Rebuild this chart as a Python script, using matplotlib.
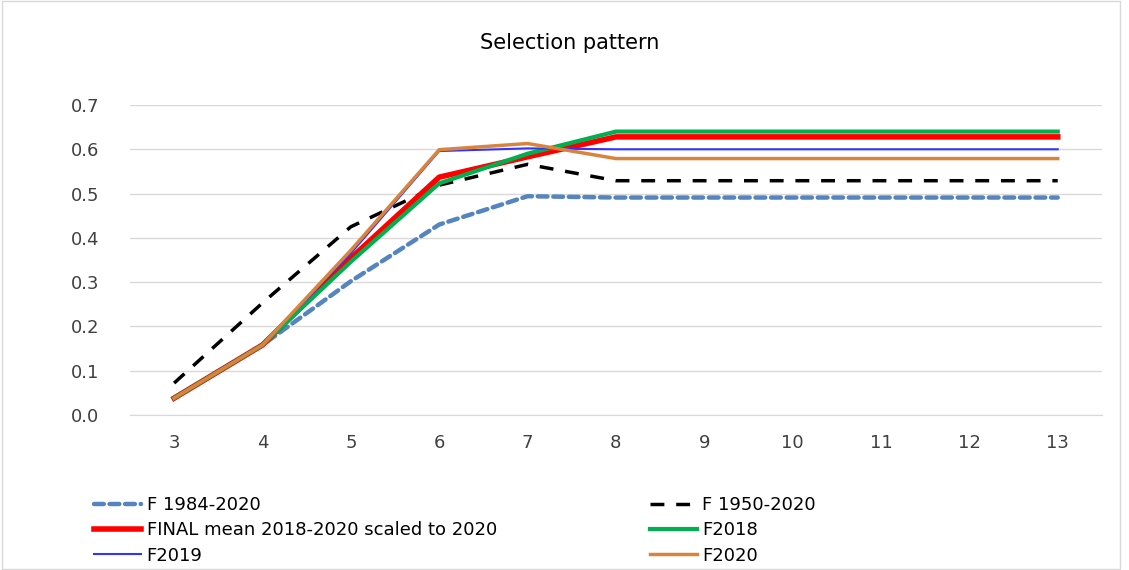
import numpy as np
import matplotlib.pyplot as plt
from matplotlib.patches import Rectangle

ages = [3, 4, 5, 6, 7, 8, 9, 10, 11, 12, 13]

f_1984_2020 = [0.038, 0.158, 0.302, 0.430, 0.494, 0.491, 0.491, 0.491, 0.491, 0.491, 0.491]
f_1950_2020 = [0.072, 0.253, 0.425, 0.519, 0.566, 0.529, 0.529, 0.529, 0.529, 0.529, 0.529]
final_mean = [0.038, 0.158, 0.354, 0.537, 0.583, 0.628, 0.628, 0.628, 0.628, 0.628, 0.628]
f2018 = [0.038, 0.158, 0.346, 0.523, 0.590, 0.640, 0.640, 0.640, 0.640, 0.640, 0.640]
f2019 = [0.038, 0.158, 0.365, 0.596, 0.602, 0.600, 0.600, 0.600, 0.600, 0.600, 0.600]
f2020 = [0.038, 0.158, 0.372, 0.599, 0.613, 0.579, 0.579, 0.579, 0.579, 0.579, 0.579]

plt.rcParams['font.family'] = ['DejaVu Sans']

fig = plt.figure(figsize=(11.29, 5.70), dpi=100)
ax = fig.add_axes([0.1151, 0.272, 0.8609, 0.5438])

l1, = ax.plot(ages, f_1984_2020, color='#5585C0', lw=3.2, dashes=(2.2, 1.3),
              dash_capstyle='round', label='F 1984-2020')
l2, = ax.plot(ages, f_1950_2020, color='black', lw=2.5, dashes=(4, 3.4),
              label='F 1950-2020')
l3, = ax.plot(ages, final_mean, color='#FF0000', lw=4, label='FINAL mean 2018-2020 scaled to 2020')
l4, = ax.plot(ages, f2018, color='#00B050', lw=3, label='F2018')
l5, = ax.plot(ages, f2019, color='#3333FF', lw=1.5, label='F2019')
l6, = ax.plot(ages, f2020, color='#D9843D', lw=2.5, label='F2020')

ax.set_xlim(2.5, 13.5)
ax.set_ylim(0, 0.7)
ax.set_xticks(ages)
ax.set_yticks(np.arange(0, 0.71, 0.1))
ax.set_yticklabels(['%.1f' % v for v in np.arange(0, 0.71, 0.1)])
ax.grid(axis='y', color='#d9d9d9', lw=1)
ax.set_axisbelow(True)
for s in ['top', 'right', 'left']:
    ax.spines[s].set_visible(False)
ax.spines['bottom'].set_color('#d9d9d9')
ax.tick_params(length=0, labelsize=13, colors='#404040')
ax.tick_params(axis='x', pad=14)
ax.tick_params(axis='y', pad=22)

fig.text(0.505, 0.925, 'Selection pattern', ha='center', va='center', fontsize=15, color='black')

kw = dict(frameon=False, fontsize=13, handlelength=2.6, handletextpad=0.3,
          labelspacing=0.4, loc='upper left', labelcolor='#000000')
fig.legend(handles=[l1, l3, l5], bbox_to_anchor=(0.069, 0.158), **kw)
fig.legend(handles=[l2, l4, l6], bbox_to_anchor=(0.561, 0.158), **kw)

fig.patches.append(Rectangle((0.002, 0.002), 0.99, 0.996, transform=fig.transFigure,
                             fill=False, edgecolor='#d9d9d9', lw=1))

fig.savefig('out.png', dpi=100)
